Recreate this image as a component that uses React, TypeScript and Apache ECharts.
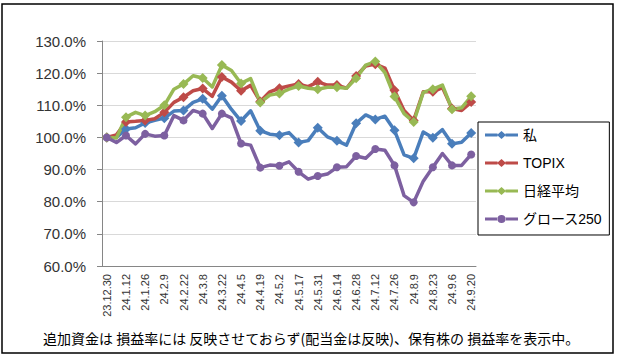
import React, { useEffect, useRef } from 'react';
import * as echarts from 'echarts';

const categories = [
  '23.12.30', '24.1.5', '24.1.12', '24.1.19', '24.1.26', '24.2.2', '24.2.9', '24.2.16', '24.2.22', '24.3.1',
  '24.3.8', '24.3.15', '24.3.22', '24.3.29', '24.4.5', '24.4.12', '24.4.19', '24.4.26', '24.5.2', '24.5.10',
  '24.5.17', '24.5.24', '24.5.31', '24.6.7', '24.6.14', '24.6.21', '24.6.28', '24.7.5', '24.7.12', '24.7.19',
  '24.7.26', '24.8.2', '24.8.9', '24.8.16', '24.8.23', '24.8.30', '24.9.6', '24.9.13', '24.9.20',
];

const watashi = [
  100, 100, 102.6, 103, 104.5, 105.3, 106, 108.2, 108.4, 110.9,
  112, 108.8, 113, 108.7, 105.1, 108.3, 102.1, 101, 100.7, 101.5,
  98.4, 99, 103, 100.2, 99, 97.6, 104.4, 107, 105.6, 106.6,
  102.2, 94.6, 93.5, 101.7, 99.9, 102.4, 98, 98.5, 101.4,
];

const topix = [
  100, 100.8, 104.8, 105, 105.3, 105.8, 107.8, 110.9, 112.5, 114.5,
  115.2, 112.8, 118.8, 117.2, 114.5, 116.2, 111.2, 114.2, 115.3, 116,
  116.6, 115.8, 117.3, 116.3, 116.3, 115.3, 119.1, 122.2, 122.8, 121.6,
  114.7, 108.4, 105.3, 114.2, 114.2, 115.5, 109, 108.4, 111,
];

const nikkei = [
  100, 99.8, 106.3, 107.8, 106.8, 108, 110, 115, 116.6, 119.2,
  118.5, 115.7, 122.5, 120.8, 116.8, 118.3, 110.9, 113.2, 113.7, 115,
  116, 115.3, 115, 115.6, 115.6, 115.3, 118.4, 122.5, 123.6, 120.2,
  112.7, 107.4, 104.8, 114, 115, 116.3, 108.8, 109.2, 112.8,
];

const growth250 = [
  100, 98.4, 100.6, 98, 101.1, 100.4, 100.6, 106.8, 105.3, 108.4,
  107.4, 102.8, 107.4, 106.1, 98.1, 97.6, 90.6, 91.4, 91.2, 92.4,
  89.3, 87, 88, 88.6, 90.7, 90.9, 94.2, 93.5, 96.4, 96,
  91.3, 81.9, 79.8, 86.4, 90.7, 95, 91.3, 91.3, 94.7,
];

const seriesNames = ['私', 'TOPIX', '日経平均', 'グロース250'];
const footerText = '追加資金は 損益率には 反映させておらず(配当金は反映)、保有株の 損益率を表示中。';

const diamondIcon =
  'path://M0,2.5 L12.5,2.5 L12.5,5.5 L0,5.5 Z M20.5,2.5 L33,2.5 L33,5.5 L20.5,5.5 Z M16.5,0 L21,4 L16.5,8 L12,4 Z';
const circleIcon =
  'path://M0,2.5 L13,2.5 L13,5.5 L0,5.5 Z M20,2.5 L33,2.5 L33,5.5 L20,5.5 Z M12.5,4 A4,4 0 1,0 20.5,4 A4,4 0 1,0 12.5,4 Z';

export default function App() {
  const ref = useRef<HTMLDivElement>(null);

  useEffect(() => {
    const chart = echarts.init(ref.current!, null, { renderer: 'svg' });
    const mk = (name: string, data: number[], color: string, symbol: string, size: number) => ({
      type: 'line',
      name,
      data,
      symbol,
      symbolSize: size,
      showSymbol: true,
      itemStyle: { color },
      lineStyle: { color, width: 3.5, join: 'round' },
      emphasis: { disabled: true },
    });
    chart.setOption({
      animation: false,
      backgroundColor: '#ffffff',
      grid: { left: 102, right: 144, top: 41, bottom: 91, containLabel: false },
      legend: {
        orient: 'vertical',
        left: 478,
        top: 122,
        padding: [6, 7, 9, 7],
        itemWidth: 33,
        itemHeight: 8,
        itemGap: 14,
        symbolKeepAspect: false,
        borderColor: '#000',
        borderWidth: 1,
        itemStyle: { borderWidth: 0 },
        lineStyle: { width: 0 },
        textStyle: { fontSize: 14, color: '#000', fontFamily: "'Liberation Sans', 'Noto Sans CJK JP', sans-serif" },
        data: [
          { name: seriesNames[0], icon: diamondIcon },
          { name: seriesNames[1], icon: diamondIcon },
          { name: seriesNames[2], icon: diamondIcon },
          { name: seriesNames[3], icon: circleIcon },
        ],
      },
      xAxis: {
        type: 'category',
        data: categories,
        boundaryGap: true,
        axisLine: { show: true, lineStyle: { color: '#868686', width: 1 } },
        axisTick: { show: false },
        axisLabel: {
          interval: 1,
          rotate: 90,
          margin: 8,
          fontSize: 11,
          color: '#333',
          fontFamily: "'Liberation Sans', sans-serif",
        },
        splitLine: { show: false },
      },
      yAxis: {
        type: 'value',
        min: 60,
        max: 130,
        interval: 10,
        axisLine: { show: true, lineStyle: { color: '#868686', width: 1 } },
        axisTick: { show: true, length: 5, lineStyle: { color: '#868686' } },
        axisLabel: {
          margin: 16,
          fontSize: 15,
          color: '#333',
          fontFamily: "'Liberation Sans', sans-serif",
          formatter: (v: number) => v.toFixed(1) + '%',
        },
        splitLine: { show: true, lineStyle: { color: '#d9d9d9', width: 1 } },
      },
      series: [
        mk(seriesNames[0], watashi, '#4a7ebb', 'diamond', 10),
        mk(seriesNames[1], topix, '#be4b48', 'diamond', 10),
        mk(seriesNames[2], nikkei, '#98b954', 'diamond', 10),
        mk(seriesNames[3], growth250, '#7d60a0', 'circle', 8),
      ],
      graphic: [
        {
          type: 'rect',
          shape: { x: 2, y: 4, width: 611, height: 349 },
          style: { fill: 'none', stroke: '#000', lineWidth: 1.5 },
          silent: true,
          z: 100,
        },
        {
          type: 'text',
          left: 43,
          top: 331,
          style: {
            text: footerText,
            fill: '#000',
            font: "14px 'Noto Sans CJK JP', sans-serif",
          },
        },
      ],
    });
    return () => chart.dispose();
  }, []);

  return (
    <div
      ref={ref}
      style={{ position: 'absolute', left: 0, top: 0, width: 620, height: 357 }}
    />
  );
}
